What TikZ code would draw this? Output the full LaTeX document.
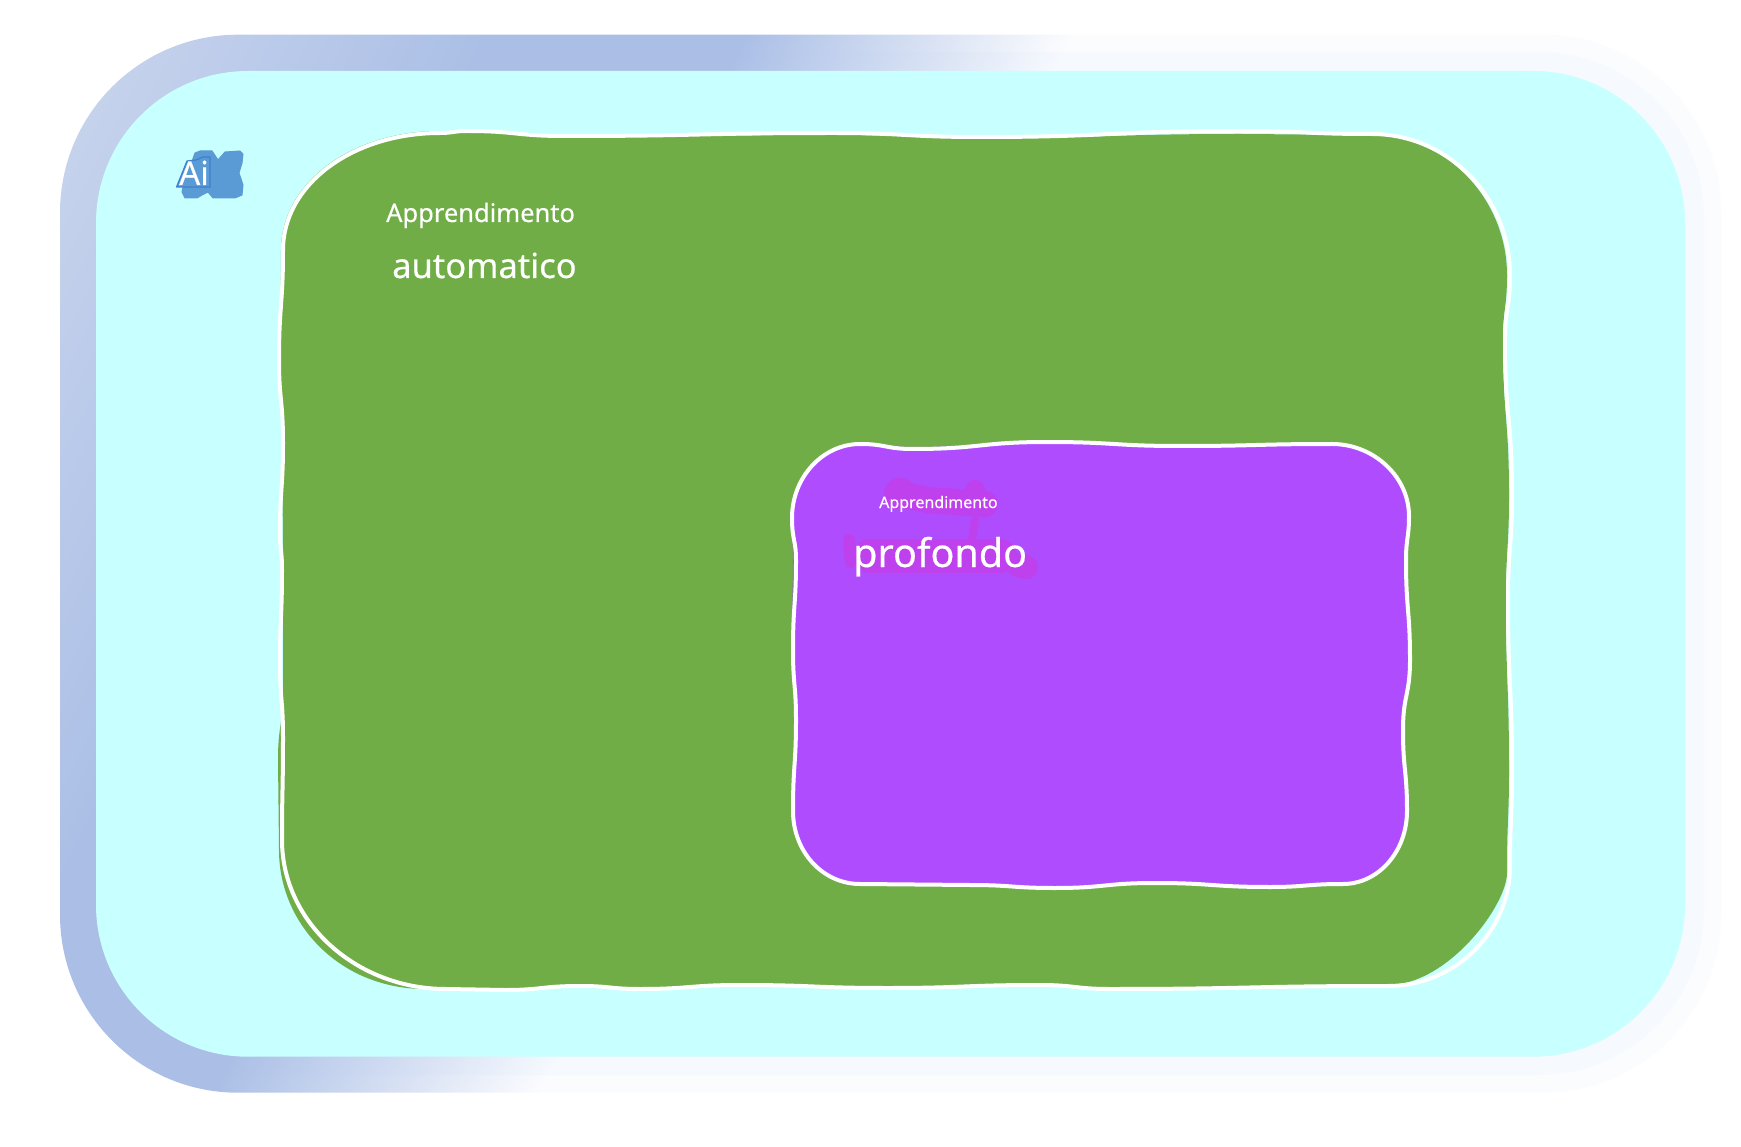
\documentclass[tikz,border=0pt]{standalone}
\usepackage{fontspec}
\setmainfont[FakeBold=0.35]{Noto Sans}
\definecolor{bandlight}{HTML}{C8D4ED}
\definecolor{bandblue}{HTML}{ABBFE6}
\definecolor{paleA}{HTML}{FBFCFE}
\definecolor{paleB}{HTML}{F6F9FE}
\definecolor{cyanbg}{HTML}{C8FFFF}
\definecolor{greenbox}{HTML}{70AD47}
\definecolor{purplebox}{HTML}{AF4CFD}
\definecolor{blobmag}{HTML}{BF41EE}
\definecolor{aiblue}{HTML}{5B9BD5}
\definecolor{aiedge}{HTML}{3F7FD0}
\pgfdeclarehorizontalshading{gradouter}{3000bp}{color(0bp)=(bandlight); color(100bp)=(bandlight); color(450bp)=(bandblue); color(680bp)=(bandblue); color(970bp)=(paleA); color(2200bp)=(paleA)}
\pgfdeclarehorizontalshading{gradmid}{3000bp}{color(0bp)=(bandlight); color(100bp)=(bandlight); color(450bp)=(bandblue); color(680bp)=(bandblue); color(970bp)=(paleB); color(2200bp)=(paleB)}
\tikzset{
  px/.style={x=1pt,y=-1pt},
  label/.style={inner sep=0pt,anchor=base west,text=white},
  blob/.style={draw=blobmag,line width=#1,line cap=round,line join=round},
  wob/.style={draw=white,line width=4pt,line join=round},
}
\begin{document}
\begin{tikzpicture}[px]
\useasboundingbox (0,0) rectangle (1741,1147);
\fill[white] (0,0) rectangle (1741,1147);
% outer band
\begin{scope}
  \clip[rounded corners=178pt] (60,34.7) rectangle (1721,1092.7);
  \node[inner sep=0pt,outer sep=0pt,anchor=west,rotate=-26.7] (shadeA) at (0,0) {\pgfuseshading{gradouter}};
\end{scope}
\begin{scope}
  \clip[rounded corners=165pt] (70,52) rectangle (1704,1075);
  \node[inner sep=0pt,outer sep=0pt,anchor=west,rotate=-26.7] (shadeB) at (0,0) {\pgfuseshading{gradmid}};
\end{scope}
\fill[cyanbg,rounded corners=152pt] (96,71) rectangle (1685,1056.7);
% AI icon
\fill[aiblue,draw=aiblue,line width=1pt,line join=round]
  (195,153)--(200,151)--(212,151)--(218,160)--(225,152)--(240,151)--(243,154)--(242,163)--(239,173)--(243,185)--(242,195)--(235,198)--(213,198)--(208,192)--(202,195)--(197,198)--(185,198)--(182,192)--(183,187)--cycle;
\fill[aiblue,draw=aiedge,line width=1.2pt,line join=round]
  (176.5,187)--(187,161)--(196,160)--(203,157)--(210,157)--(210,187)--cycle;
\node[label,font=\fontsize{33}{33}\selectfont] (ai) at (179,185) {Ai};
% green region: fill
\fill[greenbox]
 (281,250) .. controls (281,184) and (350,131) .. (440,131)
 .. controls (453,131) and (453,132) .. (467,132)
 .. controls (516,132) and (516,137) .. (565,137)
 .. controls (700,137) and (700,135) .. (833,135)
 .. controls (906,135) and (906,138) .. (980,138)
 .. controls (1110,138) and (1110,134) .. (1241,134)
 .. controls (1306,134) and (1306,135) .. (1372,135)
 .. controls (1446,135) and (1507,199) .. (1507,275)
 .. controls (1507,308) and (1503,308) .. (1503,340)
 .. controls (1503,418) and (1509,418) .. (1509,495)
 .. controls (1509,548) and (1506,548) .. (1506,600)
 .. controls (1506,685) and (1509,685) .. (1509,770)
 .. controls (1509,820) and (1507,820) .. (1507,873)
 .. controls (1507,905) and (1448,985) .. (1388,985)
 .. controls (1250,985) and (1250,989) .. (1110,989)
 .. controls (1075,989) and (1075,985) .. (1040,985)
 .. controls (964,985) and (964,988) .. (888,988)
 .. controls (814,988) and (814,985) .. (740,985)
 .. controls (690,985) and (690,989) .. (640,989)
 .. controls (610,989) and (610,986) .. (580,986)
 .. controls (542,986) and (542,990) .. (505,990)
 .. controls (465,990) and (465,989) .. (425,989)
 .. controls (341,989) and (279,925) .. (279,850)
 .. controls (279,805) and (278,805) .. (278,760)
 .. controls (278,725) and (283,725) .. (283,690)
 .. controls (283,625) and (283,625) .. (283,560)
 .. controls (283,500) and (282,500) .. (282,443)
 .. controls (282,400) and (280,400) .. (280,360)
 .. controls (280,305) and (281,305) .. (281,250) -- cycle;
% green region: outline
\draw[wob]
 (283,250) .. controls (283,185) and (352,133) .. (440,133)
 .. controls (453,133) and (453,131) .. (467,131)
 .. controls (516,131) and (516,136) .. (565,136)
 .. controls (700,136) and (700,133) .. (833,133)
 .. controls (906,133) and (906,137) .. (980,137)
 .. controls (1110,137) and (1110,131) .. (1241,131)
 .. controls (1306,131) and (1306,134) .. (1372,134)
 .. controls (1448,134) and (1510,197) .. (1510,275)
 .. controls (1510,308) and (1505,308) .. (1505,340)
 .. controls (1505,418) and (1512,418) .. (1512,495)
 .. controls (1512,548) and (1508,548) .. (1508,600)
 .. controls (1508,685) and (1512,685) .. (1512,770)
 .. controls (1512,820) and (1510,820) .. (1510,866)
 .. controls (1510,932) and (1455,986) .. (1388,986)
 .. controls (1250,986) and (1250,989) .. (1110,989)
 .. controls (1075,989) and (1075,985) .. (1040,985)
 .. controls (964,985) and (964,988) .. (888,988)
 .. controls (814,988) and (814,985) .. (740,985)
 .. controls (690,985) and (690,989) .. (640,989)
 .. controls (610,989) and (610,986) .. (580,986)
 .. controls (542,986) and (542,990) .. (505,990)
 .. controls (475,990) and (475,989) .. (446,989)
 .. controls (356,989) and (282,922) .. (282,840)
 .. controls (282,790) and (283,790) .. (283,737)
 .. controls (283,700) and (280,700) .. (280,663)
 .. controls (280,616) and (282,616) .. (282,570)
 .. controls (282,550) and (280,550) .. (280,533)
 .. controls (280,488) and (283,488) .. (283,443)
 .. controls (283,400) and (279,400) .. (279,360)
 .. controls (279,305) and (283,305) .. (283,250) -- cycle;
% purple region: fill
\fill[purplebox]
 (792,518) .. controls (792,477) and (823,444) .. (860,444)
 .. controls (886,444) and (886,447) .. (913,447)
 .. controls (980,447) and (980,442) .. (1047,442)
 .. controls (1114,442) and (1114,446) .. (1180,446)
 .. controls (1256,446) and (1256,444) .. (1332,444)
 .. controls (1374,444) and (1409,477) .. (1409,516)
 .. controls (1409,538) and (1406,538) .. (1406,560)
 .. controls (1406,610) and (1410,610) .. (1410,660)
 .. controls (1410,695) and (1403,695) .. (1403,730)
 .. controls (1403,770) and (1407,770) .. (1407,811)
 .. controls (1407,852) and (1378,885) .. (1343,885)
 .. controls (1306,885) and (1306,887) .. (1270,887)
 .. controls (1212,887) and (1212,883) .. (1155,883)
 .. controls (1105,883) and (1105,888) .. (1055,888)
 .. controls (1012,888) and (1012,885) .. (970,885)
 .. controls (915,885) and (915,886) .. (860,886)
 .. controls (823,886) and (793,852) .. (793,811)
 .. controls (793,765) and (795,765) .. (795,720)
 .. controls (795,685) and (792,685) .. (792,650)
 .. controls (792,605) and (793,605) .. (793,560)
 .. controls (793,540) and (792,540) .. (792,518) -- cycle;
% blobs behind the text
\draw[blob=26pt] (898,494) -- (928,500) -- (985,504);
\fill[blobmag] (900,494) circle (16) (975,490) circle (10);
\draw[blob=34pt] (870,556) -- (1000,556);
\draw[blob=24pt] (1018,565) -- (1026,567);
\draw[blob=12pt] (849,540) -- (851,562);
\draw[blob=8pt] (975,520) -- (972,540);
% purple region: outline
\draw[wob]
 (792,518) .. controls (792,477) and (823,444) .. (860,444)
 .. controls (886,444) and (886,449) .. (913,449)
 .. controls (980,449) and (980,442) .. (1047,442)
 .. controls (1114,442) and (1114,446) .. (1180,446)
 .. controls (1256,446) and (1256,444) .. (1332,444)
 .. controls (1374,444) and (1409,477) .. (1409,516)
 .. controls (1409,538) and (1406,538) .. (1406,560)
 .. controls (1406,610) and (1410,610) .. (1410,660)
 .. controls (1410,695) and (1403,695) .. (1403,730)
 .. controls (1403,770) and (1407,770) .. (1407,811)
 .. controls (1407,852) and (1378,884) .. (1343,884)
 .. controls (1306,884) and (1306,887) .. (1270,887)
 .. controls (1212,887) and (1212,883) .. (1155,883)
 .. controls (1105,883) and (1105,888) .. (1055,888)
 .. controls (1012,888) and (1012,885) .. (970,885)
 .. controls (915,885) and (915,884) .. (860,884)
 .. controls (823,884) and (793,852) .. (793,811)
 .. controls (793,765) and (796,765) .. (796,720)
 .. controls (796,685) and (793,685) .. (793,650)
 .. controls (793,605) and (796,605) .. (796,560)
 .. controls (796,540) and (792,540) .. (792,518) -- cycle;
% labels
\node[label,font=\fontsize{25.5}{26}\selectfont] (gtop) at (386,222) {Apprendimento};
\node[label,font=\fontsize{34.5}{35}\selectfont] (gbot) at (392,278) {automatico};
\node[label,font=\fontsize{16}{16}\selectfont] (ptop) at (879,508) {Apprendimento};
\node[label,font=\fontsize{39.5}{40}\selectfont] (pbot) at (853,567) {profondo};
\end{tikzpicture}
\end{document}
